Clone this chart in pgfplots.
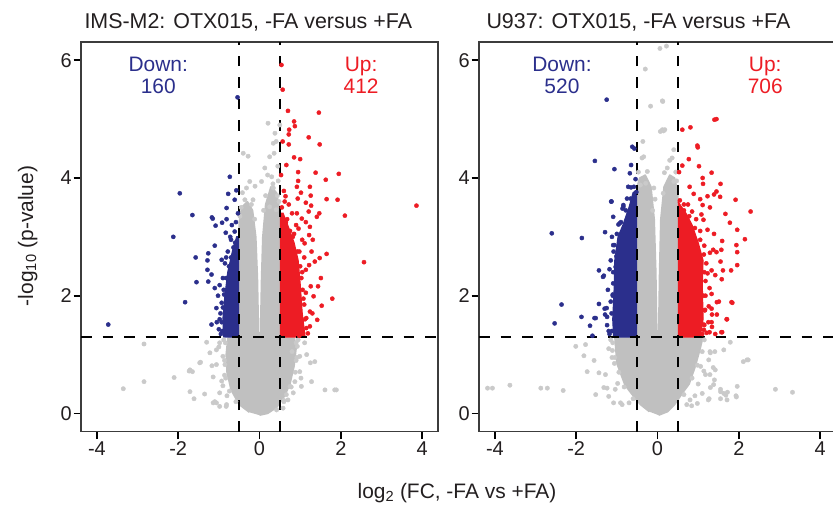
\documentclass[border=0pt]{standalone}
\usepackage{pgfplots}
\pgfplotsset{compat=1.18}
\usepackage{fontspec}
\setmainfont{Liberation Sans}

\definecolor{downblue}{RGB}{43,47,140}
\definecolor{upred}{RGB}{237,28,36}
\definecolor{coregray}{RGB}{192,192,192}
\definecolor{ptgray}{RGB}{202,202,202}
\definecolor{axisgray}{RGB}{60,60,60}
\definecolor{txt}{RGB}{35,31,32}

\pgfplotsset{
  volcano/.style={
    scale only axis, width=357bp, height=389.7bp, anchor=south west,
    xmin=-4.39, xmax=4.39, ymin=-0.31, ymax=6.31,
    xtick={-4,-2,0,2,4}, ytick={0,2,4,6},
    xtick pos=bottom, ytick pos=left,
    tick align=outside, major tick length=7.5bp,
    tick style={black, line width=1.8bp},
    axis line style={axisgray, line width=1.1bp},
    tick label style={font=\fontsize{20}{24}\selectfont, text=txt},
    /pgf/number format/assume math mode=true,
    xticklabel style={inner sep=1bp, yshift=-1.5bp},
    yticklabel style={inner sep=1.5bp},
  },
  core/.style={fill=coregray, draw=coregray, line width=1.5bp, line join=round},
  greypts/.style={only marks, mark=*, mark size=2.2bp, color=ptgray},
  uppts/.style={only marks, mark=*, mark size=2.1bp, color=upred},
  downpts/.style={only marks, mark=*, mark size=2.1bp, color=downblue},
  cutoff/.style={black, line width=1.5bp, dash pattern=on 10.5bp off 11bp},
}

\newcommand{\ann}{\fontsize{21}{25}\selectfont}

\begin{document}
\begin{tikzpicture}

% ---------------- IMS-M2 ----------------
\begin{axis}[volcano, at={(81bp,74.3bp)}]
  % dense non-significant core
  \addplot[core] coordinates {
    (0.0,-0.03) (0.2,0.0) (0.42,0.1) (0.62,0.3) (0.75,0.5) (0.85,0.8)
    (0.9,1.1) (0.86,1.28) (0.5,1.31) (0.5,3.45) (0.42,3.75) (0.28,3.85)
    (0.15,3.55) (0.08,3.0) (0.05,2.3) (0.03,1.6) (0.015,1.0) (-0.015,1.0)
    (-0.03,1.6) (-0.05,2.3) (-0.09,3.0) (-0.17,3.45) (-0.3,3.6)
    (-0.44,3.5) (-0.5,3.25) (-0.5,1.31) (-0.78,1.28) (-0.82,1.0)
    (-0.8,0.7) (-0.7,0.4) (-0.5,0.15) (-0.25,0.02)};
  \addplot[greypts] coordinates {
    (-3.35,0.42) (-2.84,0.54) (-2.84,1.18) (-2.10,0.61) (-1.73,0.72)
    (-1.65,0.71) (-1.71,0.37) (-1.61,0.25) (-1.35,0.33) (-1.45,0.87)
    (-1.30,1.21) (-1.22,1.03) (-1.17,0.81) (-1.14,0.62) (-1.14,0.18)
    (-0.98,0.12) (-0.82,0.12) (-0.98,0.35) (-0.93,0.55) (-1.06,0.83)
    (-1.06,1.08) (-0.98,1.20) (-0.90,0.47) (-0.85,0.83) (-1.06,0.18)
    (-0.81,0.15) (-1.71,0.74) (-1.47,0.86) (-1.10,0.20) (-1.00,1.13)
    (-0.90,0.97) (-0.88,1.25) (-0.86,0.65) (-0.80,0.30)
    (-0.84,1.20) (-0.86,0.90) (-0.83,0.60) (-0.74,0.38) (-0.58,0.20)
    (0.75,0.46) (1.03,0.46) (1.28,0.54) (1.61,0.40) (1.85,0.40)
    (0.66,0.32) (0.60,0.20) (0.42,0.06) (1.16,1.00) (1.25,0.86)
    (1.36,0.88) (1.89,0.40) (0.99,0.71) (0.87,0.54) (1.11,1.20)
    (0.93,1.14) (0.99,0.97) (0.83,0.35) (0.70,0.23) (0.58,0.09)
    (0.95,1.25) (1.02,0.60) (0.90,0.90) (0.80,1.05) (0.90,1.20)
    (0.92,0.95) (0.88,0.70) (0.78,0.45) (0.60,0.22)
    (0.21,4.93) (0.50,4.90) (0.38,4.76) (0.34,4.59) (0.25,4.36)
    (0.41,4.62) (-0.40,4.42) (-0.28,4.37) (0.13,4.17) (-0.24,3.94)
    (-0.32,3.83) (-0.11,3.86) (0.05,3.94) (0.30,4.02) (0.34,3.83)
    (-0.36,3.63) (-0.16,3.63) (0.25,3.51) (0.41,3.46) (0.36,4.42)
    (0.45,4.20) (0.44,3.70) (-0.45,3.50) (-0.20,3.55) (0.15,3.70)
    (0.10,3.45) (-0.42,3.75) (0.46,3.95) (0.20,4.05) (-0.48,3.35)
    (0.48,3.60) (0.33,3.90) (-0.12,3.30)};
  % significant, down
  \addplot[fill=downblue, draw=downblue, line width=1.2bp] coordinates {
    (-0.5,1.3) (-0.88,1.3) (-0.9,1.6) (-0.85,2.0) (-0.78,2.4)
    (-0.65,2.8) (-0.56,3.0) (-0.5,3.0)};
  \addplot[downpts] coordinates {
    (-3.72,1.51) (-1.96,3.74) (-1.65,3.37) (-2.12,3.00) (-1.57,2.65)
    (-1.55,2.23) (-1.83,1.89) (-0.73,4.02) (-0.57,3.79) (-0.77,3.73)
    (-0.61,3.63) (-0.81,3.49) (-1.17,3.33) (-1.15,3.31) (-1.08,3.19)
    (-0.92,3.24) (-0.81,3.30) (-0.53,3.40) (-0.83,3.07) (-0.61,3.09)
    (-1.10,2.85) (-1.26,2.72) (-0.93,2.61) (-1.28,2.60) (-0.82,2.65)
    (-0.78,2.75) (-0.64,2.82) (-1.28,2.44) (-1.18,2.36) (-1.26,2.24)
    (-1.10,2.13) (-0.98,2.18) (-0.87,2.02) (-0.93,1.88) (-1.06,1.79)
    (-1.18,1.51) (-0.98,1.60) (-1.00,1.43) (-0.54,5.37) (-0.95,1.35)
    (-0.90,2.30) (-0.72,3.00) (-0.68,3.20) (-1.02,2.00) (-0.96,1.70)
    (-0.85,2.55) (-1.05,1.55) (-0.58,3.25) (-0.70,2.95)
    (-0.92,1.40) (-0.93,1.55) (-0.90,1.80) (-0.88,2.10) (-0.82,2.30)
    (-0.75,2.50) (-0.70,2.65) (-0.60,2.90)};
  % significant, up
  \addplot[fill=upred, draw=upred, line width=1.2bp] coordinates {
    (0.5,1.3) (1.12,1.3) (1.05,1.7) (1.0,2.2) (0.95,2.6) (0.85,2.9)
    (0.72,3.15) (0.58,3.4) (0.5,3.4)};
  \addplot[uppts] coordinates {
    (0.54,5.92) (0.57,5.50) (0.70,5.14) (1.46,5.11) (0.85,4.96)
    (0.87,4.88) (0.73,4.82) (0.72,4.74) (1.21,4.69) (0.57,4.62)
    (0.72,4.57) (1.48,4.57) (0.85,4.35) (1.00,4.32) (0.66,4.22)
    (0.95,4.10) (1.38,4.09) (1.95,4.07) (0.53,4.05) (1.63,3.97)
    (0.95,3.95) (1.24,3.85) (0.92,3.85) (0.60,3.78) (1.02,3.75)
    (1.26,3.70) (0.64,3.69) (0.94,3.65) (1.65,3.64) (1.92,3.63)
    (3.86,3.53) (1.14,3.58) (1.27,3.53) (0.72,3.55) (1.47,3.40)
    (2.10,3.36) (1.21,3.43) (0.92,3.40) (1.04,3.31) (0.80,3.40)
    (1.41,3.34) (1.24,3.17) (0.96,3.14) (1.14,3.25) (1.22,3.03)
    (1.31,2.95) (1.11,2.89) (1.28,2.75) (1.65,2.71) (1.48,2.64)
    (1.36,2.58) (1.22,2.52) (1.14,2.44) (2.57,2.57) (1.51,2.30)
    (1.44,2.16) (1.26,2.16) (1.14,2.05) (1.33,1.99) (1.79,1.95)
    (1.53,1.83) (1.24,1.73) (1.30,1.70) (1.42,1.59) (1.04,1.56)
    (1.24,1.48) (1.07,1.37) (1.19,1.36) (0.98,1.32) (0.62,3.60)
    (0.55,3.50) (0.68,3.30) (0.85,3.05) (0.98,2.75) (1.05,2.40)
    (1.08,1.95) (1.15,1.62) (0.90,3.20) (1.05,2.95) (1.10,2.65)
    (1.15,1.45) (1.12,1.60) (1.10,1.85) (1.06,2.10) (1.03,2.30)
    (1.00,2.50) (0.93,2.75) (0.82,3.00) (0.75,3.10) (0.65,3.25)};
  % thresholds
  \addplot[cutoff] coordinates {(-0.5,-0.31) (-0.5,6.31)};
  \addplot[cutoff] coordinates {(0.5,-0.31) (0.5,6.31)};
  \addplot[cutoff] coordinates {(-4.39,1.301) (4.39,1.301)};
  \node[anchor=base, text=downblue, font=\ann] at (axis cs:-2.49,5.81) {Down:};
  \node[anchor=base, text=downblue, font=\ann] at (axis cs:-2.49,5.43) {160};
  \node[anchor=base, text=upred, font=\ann] at (axis cs:2.5,5.81) {Up:};
  \node[anchor=base, text=upred, font=\ann] at (axis cs:2.5,5.43) {412};
\end{axis}

% ---------------- U937 ----------------
\begin{axis}[volcano, at={(479bp,74.3bp)}]
  \addplot[core] coordinates {
    (0.03,-0.03) (0.25,0.03) (0.42,0.15) (0.62,0.35) (0.78,0.5)
    (0.93,0.8) (1.05,1.1) (1.12,1.3) (0.5,1.31) (0.5,3.75) (0.42,4.0)
    (0.3,4.05) (0.16,3.85) (0.08,3.3) (0.05,2.4) (0.03,1.5) (0.015,0.9)
    (-0.01,0.9) (-0.02,1.5) (-0.04,2.4) (-0.08,3.3) (-0.16,3.85)
    (-0.3,4.05) (-0.44,4.0) (-0.5,3.85) (-0.5,1.31) (-1.05,1.3)
    (-1.0,0.85) (-0.8,0.48) (-0.6,0.3) (-0.42,0.15) (-0.2,0.03)};
  \addplot[greypts] coordinates {
    (-4.18,0.43) (-4.06,0.43) (-3.63,0.48) (-2.87,0.43) (-2.71,0.43)
    (-2.32,0.39) (-1.52,0.32) (-1.24,0.43) (-1.04,0.41) (2.90,0.41)
    (3.32,0.36) (1.38,0.49) (1.55,0.37) (1.68,0.31) (1.93,0.30)
    (1.25,0.23) (0.80,0.23) (0.72,0.15) (-0.87,0.15) (-0.91,0.18)
    (-1.77,1.17) (-1.81,0.98) (-1.73,0.71) (-1.56,0.90) (-1.44,0.69)
    (-1.28,0.66) (-1.32,0.44) (-1.20,0.29) (-1.08,0.18) (-1.11,1.07)
    (-2.01,1.14) (-1.06,0.85) (-0.98,0.51) (-0.70,0.18) (1.63,1.08)
    (1.30,1.03) (1.40,0.57) (1.63,0.34) (1.96,0.46) (1.71,0.23)
    (1.30,0.44) (1.14,0.72) (1.10,0.34) (0.98,0.17)
    (1.79,1.21) (1.29,1.05) (1.41,1.05) (2.20,0.91) (2.23,0.91)
    (2.11,0.88) (1.26,0.91) (1.06,0.80) (1.37,0.78) (1.42,0.74)
    (1.18,0.66) (1.29,0.66) (1.55,0.41) (1.72,0.36) (1.55,0.25)
    (1.94,0.28) (1.27,0.25) (1.00,0.50) (0.92,0.30) (0.84,0.13)
    (-1.10,1.20) (-1.05,0.95) (-0.95,0.70) (-0.82,0.45) (-0.60,0.25)
    (1.15,1.25) (1.10,1.05) (0.98,0.82) (0.85,0.60) (0.65,0.32)
    (0.06,6.20) (0.22,6.24) (-0.30,5.85) (-0.17,5.22) (0.12,5.31)
    (0.13,5.30) (0.12,4.82) (0.18,4.82) (0.40,4.48) (0.36,4.34)
    (-0.38,4.34) (0.17,4.09) (0.40,3.94) (-0.29,3.91) (0.14,3.74)
    (-0.06,3.64) (0.07,4.79) (0.15,4.80) (-0.36,4.62) (-0.34,4.36)
    (-0.25,4.11) (0.24,4.17) (-0.42,3.88) (-0.09,3.83) (0.45,4.10)
    (0.30,4.30) (-1.15,1.25) (-1.20,1.10) (-1.12,0.95) (-0.47,4.10)
    (0.47,3.95) (-0.12,3.45)};
  \addplot[fill=downblue, draw=downblue, line width=1.2bp] coordinates {
    (-0.5,1.3) (-1.08,1.3) (-1.1,1.6) (-1.06,2.2) (-1.05,2.6)
    (-0.97,3.0) (-0.85,3.2) (-0.7,3.5) (-0.6,3.75) (-0.5,3.8)};
  \addplot[downpts] coordinates {
    (-1.25,5.33) (-0.62,4.53) (-0.57,4.50) (-1.54,4.29) (-1.06,4.15)
    (-0.65,4.22) (-0.68,4.08) (-0.54,3.98) (-0.65,3.84) (-0.52,3.76)
    (-1.14,3.60) (-0.84,3.51) (-0.86,3.48) (-1.09,3.34) (-0.96,3.21)
    (-1.29,3.08) (-2.60,3.06) (-1.86,2.98) (-1.09,2.86) (-1.01,2.67)
    (-1.03,2.49) (-1.44,2.43) (-1.34,2.32) (-1.09,2.21) (-1.10,2.02)
    (-2.36,1.85) (-1.44,1.86) (-1.30,1.78) (-1.87,1.64) (-1.52,1.62)
    (-1.24,1.64) (-2.53,1.53) (-1.66,1.49) (-1.24,1.50) (-1.60,1.32)
    (-1.13,3.60) (-0.84,3.54) (-0.93,3.23) (-1.06,2.86) (-1.32,2.34)
    (-1.29,1.68) (-1.25,1.79) (-1.55,1.62) (-1.20,1.40) (-1.15,1.90)
    (-1.15,2.60) (-1.12,3.00) (-0.75,3.65) (-0.72,3.85) (-1.18,1.35)
    (-1.22,2.10) (-1.18,2.45) (-1.12,1.40) (-1.13,1.70) (-1.10,2.00)
    (-1.09,2.40) (-1.08,2.75) (-1.00,3.05) (-0.90,3.25) (-0.78,3.45)
    (-0.66,3.65) (-0.58,3.85)};
  \addplot[fill=upred, draw=upred, line width=1.2bp] coordinates {
    (0.5,1.3) (1.05,1.3) (1.12,1.6) (1.1,2.2) (1.12,2.6) (1.0,2.9)
    (0.85,3.2) (0.7,3.4) (0.6,3.5) (0.5,3.6)};
  \addplot[uppts] coordinates {
    (1.45,5.00) (1.40,4.99) (0.61,4.82) (0.81,4.86) (0.98,4.55)
    (0.99,4.52) (0.77,4.32) (0.61,4.21) (1.02,4.20) (0.53,4.10)
    (1.33,4.09) (1.11,4.00) (1.12,3.90) (1.55,3.90) (0.79,3.85)
    (1.45,3.77) (1.39,3.72) (0.89,3.73) (1.92,3.63) (1.05,3.64)
    (1.23,3.69) (1.54,3.68) (1.11,3.54) (1.29,3.50) (2.29,3.43)
    (0.65,3.55) (1.67,3.39) (1.78,3.24) (1.08,3.38) (0.85,3.43)
    (1.13,3.29) (1.96,3.12) (2.15,2.96) (1.59,2.93) (1.39,3.05)
    (1.23,3.12) (1.94,2.86) (1.37,2.78) (1.57,2.78) (1.45,2.74)
    (1.96,2.74) (1.29,2.73) (1.55,2.58) (1.96,2.52) (1.81,2.43)
    (1.61,2.43) (1.33,2.43) (1.23,2.38) (1.58,2.28) (1.42,2.35)
    (1.28,2.13) (1.33,2.03) (1.84,1.88) (1.51,1.90) (1.26,1.82)
    (1.17,1.76) (1.46,1.68) (1.34,1.68) (1.71,1.60) (1.33,1.55)
    (1.14,1.51) (1.59,1.38) (1.42,1.35) (1.21,1.37) (1.82,1.89)
    (1.70,1.60) (1.33,1.78) (1.34,1.47) (1.57,1.38) (1.28,1.38)
    (1.46,1.89) (1.14,1.42) (1.18,2.00) (1.20,2.55) (1.15,2.85)
    (1.05,3.10) (0.95,3.30) (0.75,3.55) (1.18,2.25) (1.25,1.55)
    (1.10,1.35) (1.15,1.50) (1.16,1.75) (1.13,2.00) (1.15,2.40)
    (1.14,2.70) (1.05,2.95) (0.92,3.15) (0.78,3.35) (0.65,3.45)
    (0.55,3.62)};
  \addplot[cutoff] coordinates {(-0.5,-0.31) (-0.5,6.31)};
  \addplot[cutoff] coordinates {(0.5,-0.31) (0.5,6.31)};
  \addplot[cutoff] coordinates {(-4.39,1.301) (4.39,1.301)};
  \node[anchor=base, text=downblue, font=\ann] at (axis cs:-2.35,5.81) {Down:};
  \node[anchor=base, text=downblue, font=\ann] at (axis cs:-2.35,5.43) {520};
  \node[anchor=base, text=upred, font=\ann] at (axis cs:2.65,5.81) {Up:};
  \node[anchor=base, text=upred, font=\ann] at (axis cs:2.65,5.43) {706};
\end{axis}

% panel titles and shared axis labels
\node[anchor=base west, text=txt, font=\fontsize{21.5}{25}\selectfont]
  at (81bp,477.7bp) {IMS-M2: OTX015, -FA versus +FA};
\node[anchor=base west, text=txt, font=\fontsize{21.5}{25}\selectfont]
  at (483bp,477.7bp) {U937: OTX015, -FA versus +FA};
\node[anchor=base, text=txt, font=\ann]
  at (457bp,7.5bp) {log\textsubscript{2} (FC, -FA vs +FA)};
\node[anchor=base, rotate=90, text=txt, font=\ann]
  at (33bp,270bp) {-log\textsubscript{10} (p-value)};

\pgfresetboundingbox
\useasboundingbox (0,0) rectangle (833bp,506bp);
\end{tikzpicture}
\end{document}
